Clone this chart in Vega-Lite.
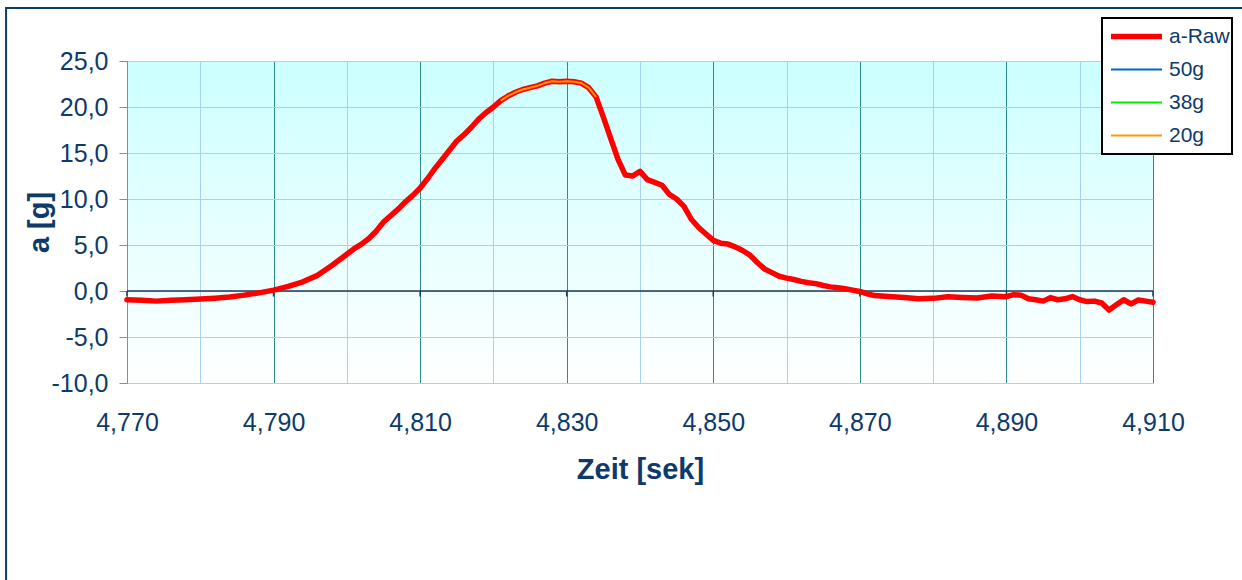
{
  "$schema": "https://vega.github.io/schema/vega-lite/v6.json",
  "width": 1026,
  "height": 322,
  "autosize": "none",
  "padding": {"left": 127, "top": 61, "right": 89, "bottom": 197},
  "background": "white",
  "datasets": {
    "raw": [
      {"t": 4.770, "a": -0.95}, {"t": 4.772, "a": -1.0}, {"t": 4.774, "a": -1.1}, {"t": 4.776, "a": -1.0},
      {"t": 4.778, "a": -0.95}, {"t": 4.780, "a": -0.88}, {"t": 4.782, "a": -0.78}, {"t": 4.784, "a": -0.65},
      {"t": 4.786, "a": -0.45}, {"t": 4.788, "a": -0.2}, {"t": 4.790, "a": 0.1}, {"t": 4.792, "a": 0.5},
      {"t": 4.794, "a": 1.0}, {"t": 4.796, "a": 1.7}, {"t": 4.798, "a": 2.8}, {"t": 4.800, "a": 4.0},
      {"t": 4.801, "a": 4.6}, {"t": 4.802, "a": 5.1}, {"t": 4.803, "a": 5.7}, {"t": 4.804, "a": 6.5},
      {"t": 4.805, "a": 7.5}, {"t": 4.806, "a": 8.2}, {"t": 4.807, "a": 8.9}, {"t": 4.808, "a": 9.7},
      {"t": 4.809, "a": 10.4}, {"t": 4.810, "a": 11.2}, {"t": 4.811, "a": 12.2}, {"t": 4.812, "a": 13.3},
      {"t": 4.813, "a": 14.3}, {"t": 4.814, "a": 15.3}, {"t": 4.815, "a": 16.3}, {"t": 4.816, "a": 17.0},
      {"t": 4.817, "a": 17.8}, {"t": 4.818, "a": 18.7}, {"t": 4.819, "a": 19.4}, {"t": 4.820, "a": 20.0},
      {"t": 4.821, "a": 20.7}, {"t": 4.822, "a": 21.2}, {"t": 4.823, "a": 21.6}, {"t": 4.824, "a": 21.9},
      {"t": 4.825, "a": 22.1}, {"t": 4.826, "a": 22.3}, {"t": 4.827, "a": 22.6}, {"t": 4.828, "a": 22.8},
      {"t": 4.829, "a": 22.75}, {"t": 4.830, "a": 22.8}, {"t": 4.831, "a": 22.75}, {"t": 4.832, "a": 22.6},
      {"t": 4.833, "a": 22.1}, {"t": 4.834, "a": 21.1}, {"t": 4.835, "a": 18.9}, {"t": 4.836, "a": 16.6},
      {"t": 4.837, "a": 14.3}, {"t": 4.838, "a": 12.6}, {"t": 4.839, "a": 12.5}, {"t": 4.840, "a": 13.0},
      {"t": 4.841, "a": 12.1}, {"t": 4.842, "a": 11.8}, {"t": 4.843, "a": 11.5}, {"t": 4.844, "a": 10.5},
      {"t": 4.845, "a": 10.0}, {"t": 4.846, "a": 9.2}, {"t": 4.847, "a": 7.8}, {"t": 4.848, "a": 6.9},
      {"t": 4.849, "a": 6.2}, {"t": 4.850, "a": 5.5}, {"t": 4.851, "a": 5.2}, {"t": 4.852, "a": 5.1},
      {"t": 4.853, "a": 4.8}, {"t": 4.854, "a": 4.4}, {"t": 4.855, "a": 3.9}, {"t": 4.856, "a": 3.1},
      {"t": 4.857, "a": 2.4}, {"t": 4.858, "a": 2.0}, {"t": 4.859, "a": 1.6}, {"t": 4.860, "a": 1.4},
      {"t": 4.861, "a": 1.25}, {"t": 4.862, "a": 1.05}, {"t": 4.863, "a": 0.9}, {"t": 4.864, "a": 0.8},
      {"t": 4.865, "a": 0.6}, {"t": 4.866, "a": 0.45}, {"t": 4.867, "a": 0.35}, {"t": 4.868, "a": 0.25},
      {"t": 4.869, "a": 0.1}, {"t": 4.870, "a": -0.05}, {"t": 4.871, "a": -0.3}, {"t": 4.872, "a": -0.5},
      {"t": 4.874, "a": -0.6}, {"t": 4.876, "a": -0.7}, {"t": 4.878, "a": -0.85}, {"t": 4.880, "a": -0.8},
      {"t": 4.882, "a": -0.62}, {"t": 4.884, "a": -0.7}, {"t": 4.886, "a": -0.75}, {"t": 4.888, "a": -0.55},
      {"t": 4.890, "a": -0.62}, {"t": 4.891, "a": -0.4}, {"t": 4.892, "a": -0.45}, {"t": 4.893, "a": -0.85},
      {"t": 4.894, "a": -0.95}, {"t": 4.895, "a": -1.1}, {"t": 4.896, "a": -0.72}, {"t": 4.897, "a": -0.95},
      {"t": 4.898, "a": -0.85}, {"t": 4.899, "a": -0.6}, {"t": 4.900, "a": -0.95}, {"t": 4.901, "a": -1.15},
      {"t": 4.902, "a": -1.1}, {"t": 4.903, "a": -1.3}, {"t": 4.904, "a": -2.07}, {"t": 4.905, "a": -1.5},
      {"t": 4.906, "a": -0.95}, {"t": 4.907, "a": -1.4}, {"t": 4.908, "a": -0.98}, {"t": 4.909, "a": -1.1},
      {"t": 4.910, "a": -1.23}
    ],
    "g20": [
      {"t": 4.821, "a": 20.7}, {"t": 4.822, "a": 21.2}, {"t": 4.823, "a": 21.6}, {"t": 4.824, "a": 21.9},
      {"t": 4.825, "a": 22.1}, {"t": 4.826, "a": 22.3}, {"t": 4.827, "a": 22.6}, {"t": 4.828, "a": 22.8},
      {"t": 4.829, "a": 22.75}, {"t": 4.830, "a": 22.8}, {"t": 4.831, "a": 22.75}, {"t": 4.832, "a": 22.6},
      {"t": 4.833, "a": 22.1}, {"t": 4.834, "a": 21.1}
    ],
    "zeroticks": [
      {"t": 4.77}, {"t": 4.79}, {"t": 4.81}, {"t": 4.83}, {"t": 4.85}, {"t": 4.87}, {"t": 4.89}, {"t": 4.91}
    ]
  },
  "layer": [
    {
      "data": {"values": [{}]},
      "mark": {"type": "rect", "clip": false, "fill": "white", "fillOpacity": 0, "stroke": "#0d3a6b", "strokeWidth": 2},
      "encoding": {
        "x": {"datum": 4.7535, "type": "quantitative"},
        "x2": {"datum": 4.94},
        "y": {"datum": 30.76, "type": "quantitative"},
        "y2": {"datum": -45}
      }
    },
    {
      "data": {"values": [{}]},
      "mark": {"type": "rule", "color": "#1b3a5c", "strokeWidth": 1.5},
      "encoding": {
        "y": {"datum": 0, "type": "quantitative"}
      }
    },
    {
      "data": {"name": "zeroticks"},
      "mark": {"type": "rule", "color": "#1b3a5c", "strokeWidth": 1.5},
      "encoding": {
        "x": {"field": "t", "type": "quantitative"},
        "y": {"datum": 0, "type": "quantitative"},
        "y2": {"datum": -0.6}
      }
    },
    {
      "data": {"name": "raw"},
      "transform": [{"calculate": "'a-Raw'", "as": "series"}],
      "mark": {"type": "line", "strokeJoin": "round", "strokeCap": "round"},
      "encoding": {
        "x": {"field": "t", "type": "quantitative"},
        "y": {"field": "a", "type": "quantitative"},
        "color": {"field": "series", "type": "nominal"},
        "strokeWidth": {"field": "series", "type": "nominal"}
      }
    },
    {
      "data": {"name": "g20"},
      "transform": [{"calculate": "'20g'", "as": "series"}],
      "mark": {"type": "line", "strokeJoin": "round"},
      "encoding": {
        "x": {"field": "t", "type": "quantitative"},
        "y": {"field": "a", "type": "quantitative"},
        "color": {"field": "series", "type": "nominal"},
        "strokeWidth": {"field": "series", "type": "nominal"}
      }
    }
  ],
  "resolve": {"scale": {"color": "shared", "strokeWidth": "shared"}},
  "encoding": {
    "x": {
      "type": "quantitative",
      "scale": {"domain": [4.77, 4.91], "nice": false, "zero": false},
      "axis": {
        "title": "Zeit [sek]",
        "grid": true,
        "values": [4.77, 4.78, 4.79, 4.8, 4.81, 4.82, 4.83, 4.84, 4.85, 4.86, 4.87, 4.88, 4.89, 4.9, 4.91],
        "labelExpr": "round(datum.value*1000) % 20 == 10 ? replace(format(datum.value, '.3f'), '.', ',') : ''",
        "labelFlush": false,
        "labelOverlap": false,
        "domain": false,
        "ticks": false,
        "labelPadding": 27,
        "titlePadding": 20,
        "gridColor": {"condition": {"test": "round(datum.value*1000) % 20 == 10", "value": "#2e8b8b"}, "value": "#a8d2f2"}
      }
    },
    "y": {
      "type": "quantitative",
      "scale": {"domain": [-10, 25], "nice": false, "zero": false},
      "axis": {
        "title": "a [g]",
        "grid": true,
        "values": [-10, -5, 0, 5, 10, 15, 20, 25],
        "labelExpr": "replace(replace(format(datum.value, '.1f'), '.', ','), '\u2212', '-')",
        "titlePadding": -3,
        "gridColor": "#a8d2f2"
      }
    },
    "color": {
      "scale": {"domain": ["a-Raw", "50g", "38g", "20g"], "range": ["#ff0000", "#0066cc", "#00ee00", "#ff9900"]},
      "legend": {
        "title": null,
        "orient": "none",
        "legendX": 975,
        "legendY": -43,
        "symbolType": "stroke",
        "symbolSize": 2601,
        "symbolOffset": 4,
        "clipHeight": 33,
        "rowPadding": 0,
        "padding": 2,
        "labelOffset": 4,
        "strokeColor": "black",
        "fillColor": "white",
        "labelFont": "Liberation Sans",
        "labelFontSize": 21,
        "labelColor": "#0d3a6b"
      }
    },
    "strokeWidth": {
      "scale": {"type": "ordinal", "domain": ["a-Raw", "50g", "38g", "20g"], "range": [5.5, 2, 2, 2]}
    }
  },
  "config": {
    "view": {
      "stroke": null,
      "fill": {"gradient": "linear", "x1": 0, "y1": 0, "x2": 0, "y2": 1, "stops": [{"offset": 0, "color": "#ccffff"}, {"offset": 1, "color": "#ffffff"}]}
    },
    "font": "Liberation Sans",
    "axis": {
      "labelFont": "Liberation Sans",
      "labelFontSize": 25,
      "labelColor": "#0d3a6b",
      "titleFont": "Liberation Sans",
      "titleFontSize": 29,
      "titleFontWeight": "bold",
      "titleColor": "#0d3a6b",
      "domainColor": "#7f8ea0",
      "tickColor": "#7f8ea0",
      "tickSize": 8,
      "labelPadding": 11,
      "gridWidth": 1
    },
    "legend": {"strokeWidth": 2}
  }
}
